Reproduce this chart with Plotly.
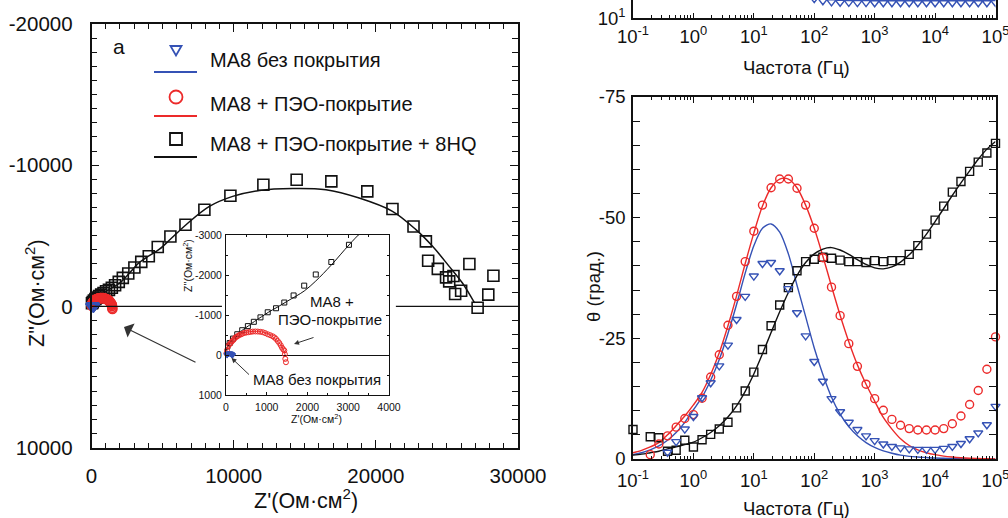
import plotly.graph_objects as go

W, H = 1008, 518
FONT = "Liberation Sans, Arial, sans-serif"
BLUE = "#3552b5"
RED = "#ec2a2a"
BLACK = "#111111"

# ---------------- Nyquist (Z', Z'') data ----------------
ny_black_zre = [33, 90, 171, 276, 398, 537, 683, 846, 1024, 1228, 1431, 1659, 1919, 2203, 2585, 3017,
                3500, 4030, 4660, 5550, 6610, 7940, 9770, 12090, 14430, 16870, 19400, 21170, 22650, 23520,
                23680, 24360, 24940, 25460, 25160, 25580, 26000, 26580, 27160, 27910, 28270]
ny_black_zim = [-215, -299, -410, -519, -620, -722, -830, -941, -1068, -1169, -1312, -1489, -1734, -2013, -2325, -2755,
                -3150, -3550, -4200, -4950, -5780, -6840, -7835, -8610, -8967, -8850, -8140, -6890, -5660, -4600,
                -3230, -2650, -2050, -2150, -1770, -875, -1100, -3000, 100, -830, -2170]
ny_black_fit_zre = [0, 40, 100, 180, 290, 420, 560, 700, 870, 1050, 1250, 1512, 1919, 2203, 2585, 3017, 3341,
                    4000, 4780, 5600, 6650, 8290, 9930, 11810, 14150, 16490, 18830, 21170, 22820, 23990,
                    25160, 26090, 26800, 26950]
ny_black_fit_zim = [-100, -230, -320, -420, -530, -635, -735, -840, -955, -1075, -1190, -1350, -1600, -1850, -2250,
                    -2750, -3084, -3550, -4050, -4800, -5780, -7080, -7790, -8210, -8350, -8260, -7670, -6730,
                    -5430, -4250, -2830, -1650, -500, -250]

ny_red_zre = [10, 25, 49, 80, 114, 140, 171, 200, 228, 260, 293, 330, 374, 410, 455, 500, 553, 605, 659, 720,
              780, 840, 902, 960, 1024, 1085, 1146, 1190, 1228, 1270, 1309, 1345, 1374, 1405, 1431, 1445, 1455, 1471]
ny_red_zim = [-40, -120, -215, -260, -299, -335, -367, -400, -435, -455, -477, -500, -519, -537, -553, -562, -570,
              -578, -586, -588, -586, -580, -570, -548, -519, -495, -468, -438, -401, -350, -299, -240, -182,
              -140, -114, -20, 97, 181]
ny_red_fit_zre = [5, 40, 120, 250, 400, 560, 720, 880, 1030, 1170, 1290, 1380, 1430, 1450]
ny_red_fit_zim = [-20, -180, -330, -460, -540, -580, -592, -578, -530, -440, -320, -190, -80, 0]

ny_blue_zre = [25, 28, 32, 38, 45, 55, 68, 82, 96, 108, 118, 127, 134, 140, 145, 150, 155, 160]
ny_blue_zim = [-2, -8, -15, -22, -30, -37, -42, -44, -42, -38, -32, -26, -20, -14, -9, -5, -2, 5]
ny_blue_fit_zre = [20, 30, 50, 80, 110, 135, 150, 155]
ny_blue_fit_zim = [0, -20, -38, -48, -42, -25, -8, 0]

# ---------------- Bode data ----------------
freq = [0.1, 0.139, 0.193, 0.268, 0.373, 0.518, 0.72, 1.0, 1.39, 1.93, 2.68, 3.73, 5.18, 7.2,
        10, 13.9, 19.3, 26.8, 37.3, 51.8, 72, 100, 139, 193, 268, 373, 518, 720,
        1000, 1390, 1930, 2680, 3730, 5180, 7200, 10000, 13900, 19300, 26800, 37300, 51800, 72000, 100000]

phase_blue = [None, None, None, None, -1.4, -3.6, -6.2, -8.8, -12.7, -15.8, -19.3, -23.6, -28.9, -33.7,
              -37.9, -40.5, -40.7, -39.0, -35.3, -30.3, -25.5, -20.2, -16.1, -12.5, -9.8, -7.6, -6.1, -4.8,
              -3.8, -3.1, -2.6, -2.3, -2.1, -2.0, -2.0, -2.0, -2.2, -2.6, -3.2, -4.2, -5.4, -7.1, -10.9]
phase_red = [None, None, -0.9, -3.1, -4.8, -6.6, -8.4, -9.2, -12.6, -17.0, -21.6, -27.7, -33.7, -40.9,
             -47.2, -52.6, -56.2, -58.0, -58.0, -56.1, -52.6, -47.8, -41.7, -35.6, -29.7, -23.9, -19.2, -15.5,
             -12.5, -10.1, -8.2, -7.0, -6.3, -6.0, -6.0, -6.0, -6.3, -7.3, -8.9, -11.3, -14.2, -18.6, -25.3]
phase_black = [-6.1, None, -4.6, -4.4, -1.6, -1.8, -3.9, -2.5, -4.0, -5.1, -6.2, -7.6, -10.6, -14.1,
               -18.0, -22.7, -27.6, -31.9, -35.5, -39.0, -40.9, -41.4, -41.8, -41.6, -41.2, -40.9, -40.9, -40.7,
               -41.1, -40.9, -41.1, -41.1, -42.4, -44.2, -46.6, -49.5, -52.4, -55.3, -57.5, -59.6, -61.5, -63.4, -65.4]

fit_blue = [-0.9, -1.3, -1.9, -2.7, -3.9, -5.5, -7.6, -10.2, -12.8, -16.3, -20.6, -26.0, -32.0, -38.5,
            -44.2, -47.8, -48.7, -47.0, -42.5, -36.0, -29.5, -23.0, -17.5, -12.8, -9.3, -6.7, -4.8, -3.4,
            -2.4, -1.7, -1.2, -0.8, -0.55, -0.4, -0.3, -0.2, -0.15, -0.1, -0.08, -0.05, -0.03, -0.02, -0.01]
fit_red = [-1.3, -1.8, -2.5, -3.4, -5.0, -6.9, -8.9, -11.2, -13.8, -17.5, -22.0, -27.6, -33.8, -40.5,
           -46.8, -52.4, -56.2, -58.0, -58.0, -56.2, -52.6, -47.8, -42.0, -35.8, -29.8, -24.3, -19.5, -15.5,
           -12.0, -8.6, -6.2, -4.2, -2.8, -1.9, -1.3, -0.9, -0.6, -0.4, -0.25, -0.15, -0.1, -0.05, -0.03]
fit_black = [-0.8, -1.0, -1.3, -1.6, -2.1, -2.5, -3.0, -3.5, -4.4, -5.5, -6.9, -8.7, -11.0, -14.0,
             -17.6, -21.8, -26.2, -30.5, -34.5, -38.0, -40.7, -42.5, -43.5, -43.8, -43.3, -42.4, -41.3, -40.3,
             -39.6, -39.4, -39.8, -40.8, -42.3, -44.3, -46.6, -49.2, -51.9, -54.6, -57.2, -59.7, -62.1, -64.2, -65.8]

# |Z| (only the bottom strip of the upper Bode panel is visible)
freq_modz = freq[21:]
modz_blue = [21.0, 19.4, 18.6, 18.3, 18.2, 18.1, 18.1, 18.0, 18.0, 18.0, 18.0,
             18.0, 18.0, 18.0, 18.0, 18.0, 18.0, 18.0, 18.0, 18.0, 18.0, 18.1]

legend_labels = ["МА8 без покрытия", "МА8 + ПЭО-покрытие", "МА8 + ПЭО-покрытие + 8HQ"]


def px(x):
    return x / W


def py(y):
    return 1 - y / H


fig = go.Figure()

# ---- main Nyquist ----
fig.add_trace(go.Scatter(x=ny_black_fit_zre, y=ny_black_fit_zim, mode="lines", line=dict(color=BLACK, width=1.5, shape="spline"),
                         xaxis="x", yaxis="y", showlegend=False))
fig.add_trace(go.Scatter(x=ny_black_zre, y=ny_black_zim, mode="markers",
                         marker=dict(symbol="square-open", size=11, color=BLACK, line=dict(width=1.6)),
                         xaxis="x", yaxis="y", showlegend=False, cliponaxis=False))
fig.add_trace(go.Scatter(x=ny_red_zre, y=ny_red_zim, mode="markers",
                         marker=dict(symbol="circle-open", size=9, color=RED, line=dict(width=1.6)),
                         xaxis="x", yaxis="y", showlegend=False, cliponaxis=False))
fig.add_trace(go.Scatter(x=ny_blue_zre, y=ny_blue_zim, mode="markers",
                         marker=dict(symbol="triangle-down-open", size=10, color=BLUE, line=dict(width=1.8)),
                         xaxis="x", yaxis="y", showlegend=False, cliponaxis=False))

# ---- inset Nyquist ----
fig.add_trace(go.Scatter(x=ny_black_fit_zre, y=ny_black_fit_zim, mode="lines", line=dict(color=BLACK, width=1, shape="spline"),
                         xaxis="x2", yaxis="y2", showlegend=False))
fig.add_trace(go.Scatter(x=ny_red_fit_zre, y=ny_red_fit_zim, mode="lines", line=dict(color=RED, width=1, shape="spline"),
                         xaxis="x2", yaxis="y2", showlegend=False))
fig.add_trace(go.Scatter(x=ny_black_zre, y=ny_black_zim, mode="markers",
                         marker=dict(symbol="square-open", size=5, color=BLACK, line=dict(width=1)),
                         xaxis="x2", yaxis="y2", showlegend=False))
fig.add_trace(go.Scatter(x=ny_red_zre, y=ny_red_zim, mode="markers",
                         marker=dict(symbol="circle-open", size=5, color=RED, line=dict(width=1)),
                         xaxis="x2", yaxis="y2", showlegend=False, cliponaxis=False))
fig.add_trace(go.Scatter(x=ny_blue_fit_zre, y=ny_blue_fit_zim, mode="lines", line=dict(color=BLUE, width=1),
                         xaxis="x2", yaxis="y2", showlegend=False))
fig.add_trace(go.Scatter(x=ny_blue_zre, y=ny_blue_zim, mode="markers",
                         marker=dict(symbol="triangle-down-open", size=5, color=BLUE, line=dict(width=1.2)),
                         xaxis="x2", yaxis="y2", showlegend=False, cliponaxis=False))

# ---- phase Bode ----
for fit, col in [(fit_blue, BLUE), (fit_red, RED), (fit_black, BLACK)]:
    fig.add_trace(go.Scatter(x=freq, y=fit, mode="lines", line=dict(color=col, width=1.4, shape="spline", smoothing=0.8),
                             xaxis="x3", yaxis="y3", showlegend=False))
fig.add_trace(go.Scatter(x=freq, y=phase_black, mode="markers",
                         marker=dict(symbol="square-open", size=8, color=BLACK, line=dict(width=1.4)),
                         xaxis="x3", yaxis="y3", showlegend=False, cliponaxis=False))
fig.add_trace(go.Scatter(x=freq, y=phase_red, mode="markers",
                         marker=dict(symbol="circle-open", size=8, color=RED, line=dict(width=1.4)),
                         xaxis="x3", yaxis="y3", showlegend=False, cliponaxis=False))
fig.add_trace(go.Scatter(x=freq, y=phase_blue, mode="markers",
                         marker=dict(symbol="triangle-down-open", size=8, color=BLUE, line=dict(width=1.4)),
                         xaxis="x3", yaxis="y3", showlegend=False, cliponaxis=False))

# ---- |Z| Bode (bottom strip) ----
fig.add_trace(go.Scatter(x=freq_modz, y=modz_blue, mode="markers",
                         marker=dict(symbol="triangle-down-open", size=8, color=BLUE, line=dict(width=1.4)),
                         xaxis="x4", yaxis="y4", showlegend=False))

common = dict(showgrid=False, zeroline=False, showline=True, linecolor=BLACK, ticks="inside",
              tickcolor=BLACK, automargin=False, ticklabeloverflow="allow")

dec_vals = [0.1, 1, 10, 100, 1000, 10000, 100000]
dec_text = ["10<sup>-1</sup>", "10<sup>0</sup>", "10<sup>1</sup>", "10<sup>2</sup>",
            "10<sup>3</sup>", "10<sup>4</sup>", "10<sup>5</sup>"]

fig.update_layout(
    width=W, height=H, margin=dict(l=0, r=0, t=0, b=0, autoexpand=False),
    paper_bgcolor="white", plot_bgcolor="rgba(0,0,0,0)",
    font=dict(family=FONT, color=BLACK),
    showlegend=False,
    xaxis=dict(**common, domain=[px(91.5), px(518)], range=[0, 30000], anchor="y",
               tickvals=[0, 10000, 20000, 30000], ticktext=["0", "10000", "20000", "30000"],
               ticklen=8, tickwidth=1.3, linewidth=1.5, mirror="allticks",
               minor=dict(ticks="inside", tick0=0, dtick=1000, ticklen=5, tickwidth=1.1, tickcolor=BLACK),
               tickfont=dict(size=20.5, family=FONT, color=BLACK), ticklabelstandoff=9),
    yaxis=dict(**common, domain=[py(447.5), py(24)], range=[10000, -20000], anchor="x",
               tickvals=[-20000, -10000, 0, 10000], ticktext=["-20000", "-10000", "0", "10000"],
               ticklen=8, tickwidth=1.3, linewidth=1.5, mirror="allticks",
               minor=dict(ticks="inside", tick0=0, dtick=1000, ticklen=6, tickwidth=1.1, tickcolor=BLACK),
               tickfont=dict(size=20.5, family=FONT, color=BLACK), ticklabelstandoff=13),
    xaxis2=dict(**common, domain=[px(226), px(389)], range=[0, 4000], anchor="y2",
                tickvals=[0, 1000, 2000, 3000, 4000], ticktext=["0", "1000", "2000", "3000", "4000"],
                ticklen=3, tickwidth=1, linewidth=1, mirror="allticks",
                minor=dict(ticks="inside", tick0=0, dtick=500, ticklen=2, tickcolor=BLACK),
                tickfont=dict(size=10.5, family=FONT, color=BLACK), ticklabelstandoff=2),
    yaxis2=dict(showgrid=False, showline=True, linecolor=BLACK, ticks="inside", tickcolor=BLACK,
                zeroline=True, zerolinecolor=BLACK, zerolinewidth=1, automargin=False,
                domain=[py(395), py(235)], range=[1000, -3000], anchor="x2",
                tickvals=[-3000, -2000, -1000, 0, 1000], ticktext=["-3000", "-2000", "-1000", "0", "1000"],
                ticklen=3, tickwidth=1, linewidth=1, mirror="allticks",
                minor=dict(ticks="inside", tick0=0, dtick=500, ticklen=2, tickcolor=BLACK),
                tickfont=dict(size=10.5, family=FONT, color=BLACK), ticklabelstandoff=1),
    xaxis3=dict(**common, type="log", domain=[px(633), px(995.5)], range=[-1, 5], anchor="y3",
                tickvals=dec_vals, ticktext=dec_text, ticklen=6, tickwidth=1.2, linewidth=1.5, mirror="allticks",
                minor=dict(ticks="inside", dtick="D1", ticklen=3.5, tickwidth=1, tickcolor=BLACK),
                tickfont=dict(size=18.5, family=FONT, color=BLACK), ticklabelstandoff=4),
    yaxis3=dict(**common, domain=[py(459), py(97)], range=[0, -75], anchor="x3",
                tickvals=[0, -25, -50, -75], ticktext=["0", "-25", "-50", "-75"],
                ticklen=7, tickwidth=1.2, linewidth=1.5, mirror="allticks",
                minor=dict(ticks="inside", tick0=0, dtick=5, ticklen=7, tickwidth=1.1, tickcolor=BLACK),
                tickfont=dict(size=18.5, family=FONT, color=BLACK), ticklabelstandoff=2),
    xaxis4=dict(**common, type="log", domain=[px(633), px(995.5)], range=[-1, 5], anchor="y4",
                tickvals=dec_vals, ticktext=dec_text, ticklen=6, tickwidth=1.2, linewidth=1.5,
                minor=dict(ticks="inside", dtick="D1", ticklen=3.5, tickwidth=1, tickcolor=BLACK),
                tickfont=dict(size=18.5, family=FONT, color=BLACK), ticklabelstandoff=1),
    yaxis4=dict(**common, type="log", domain=[py(18.3), 1], range=[1, 1.3], anchor="x4",
                tickvals=[10], ticktext=["10<sup>1</sup>"], ticklen=6, tickwidth=1.2, linewidth=1.5, mirror=True,
                tickfont=dict(size=18.5, family=FONT, color=BLACK), ticklabelstandoff=2),
)

# broken zero line of the main Nyquist plot (interrupted by the inset)
for x0, x1 in [(0, 9175), (21410, 30000)]:
    fig.add_shape(type="line", xref="x", yref="y", x0=x0, x1=x1, y0=0, y1=0,
                  line=dict(color=BLACK, width=1.1))

# ---- custom legend (marker above line) ----
lw = 1.8
fig.add_shape(type="path", xref="paper", yref="paper",
              path=f"M {px(170.5)},{py(46)} L {px(181.5)},{py(46)} L {px(176)},{py(55.5)} Z",
              line=dict(color=BLUE, width=lw), fillcolor="rgba(0,0,0,0)")
fig.add_shape(type="circle", xref="paper", yref="paper", x0=px(169.5), x1=px(182.5), y0=py(103.5), y1=py(90.5),
              line=dict(color=RED, width=lw))
fig.add_shape(type="rect", xref="paper", yref="paper", x0=px(170), x1=px(182), y0=py(145), y1=py(133),
              line=dict(color=BLACK, width=lw))
for yy, col in [(72, BLUE), (116, RED), (157, BLACK)]:
    fig.add_shape(type="line", xref="paper", yref="paper", x0=px(154), x1=px(197), y0=py(yy), y1=py(yy),
                  line=dict(color=col, width=2.2))

ann = []
for lab, yy in zip(legend_labels, [60, 103.5, 144]):
    ann.append(dict(text=lab, x=px(207.5), y=py(yy), xanchor="left", yanchor="middle",
                    font=dict(size=20, family=FONT, color=BLACK)))
ann.append(dict(text="а", x=px(118.5), y=py(46), xanchor="center", yanchor="middle",
                font=dict(size=21, family=FONT, color=BLACK)))
# axis titles
ann.append(dict(text="Z'(Ом·см<sup>2</sup>)", x=px(306), y=py(499), xanchor="center", yanchor="middle",
                font=dict(size=21.5, family=FONT, color=BLACK)))
ann.append(dict(text="Z\"(Ом·см<sup>2</sup>)", x=px(35), y=py(293), xanchor="center", yanchor="middle",
                textangle=-90, font=dict(size=21.5, family=FONT, color=BLACK)))
ann.append(dict(text="Z'(Ом·см<sup>2</sup>)", x=px(316.5), y=py(418), xanchor="center", yanchor="middle",
                font=dict(size=10.5, family=FONT, color=BLACK)))
ann.append(dict(text="Z''(Ом·см<sup>2</sup>)", x=px(187), y=py(266), xanchor="center", yanchor="middle",
                textangle=-90, font=dict(size=10.5, family=FONT, color=BLACK)))
ann.append(dict(text="Частота (Гц)", x=px(796.5), y=py(508), xanchor="center", yanchor="middle",
                font=dict(size=18.5, family=FONT, color=BLACK)))
ann.append(dict(text="Частота (Гц)", x=px(796.5), y=py(68), xanchor="center", yanchor="middle",
                font=dict(size=18.5, family=FONT, color=BLACK)))
ann.append(dict(text="θ (град.)", x=px(593), y=py(287), xanchor="center", yanchor="middle",
                textangle=-90, font=dict(size=18.5, family=FONT, color=BLACK)))
# inset labels
ann.append(dict(text="МА8 +", x=px(332), y=py(301), xanchor="center", yanchor="middle",
                font=dict(size=15, family=FONT, color=BLACK)))
ann.append(dict(text="ПЭО-покрытие", x=px(330), y=py(319), xanchor="center", yanchor="middle",
                font=dict(size=15, family=FONT, color=BLACK)))
ann.append(dict(text="МА8 без покрытия", x=px(317), y=py(379), xanchor="center", yanchor="middle",
                font=dict(size=15, family=FONT, color=BLACK)))
# arrows
ann.append(dict(text="", x=px(124), y=py(327), xref="paper", yref="paper", showarrow=True,
                ax=73, ay=36, arrowhead=1, arrowsize=2.2, arrowwidth=1.2, arrowcolor="#333333"))
ann.append(dict(text="", x=px(294), y=py(344), xref="paper", yref="paper", showarrow=True,
                ax=21, ay=-7, arrowhead=2, arrowsize=1, arrowwidth=1, arrowcolor="#333333"))
ann.append(dict(text="", x=px(231.5), y=py(358), xref="paper", yref="paper", showarrow=True,
                ax=19, ay=18, arrowhead=2, arrowsize=1, arrowwidth=1, arrowcolor="#333333"))
for a in ann:
    a.setdefault("xref", "paper")
    a.setdefault("yref", "paper")
    a.setdefault("showarrow", False)
fig.update_layout(annotations=ann)

fig.write_html("out.html")
